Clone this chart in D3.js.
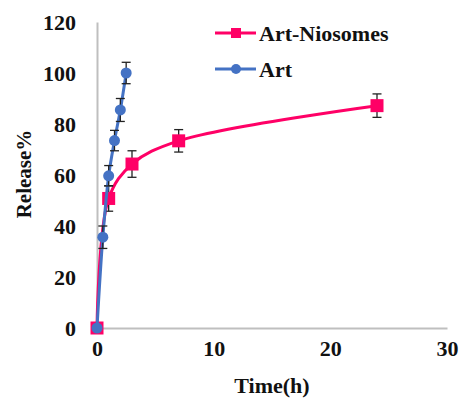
<!DOCTYPE html>
<html>
<head>
<meta charset="utf-8">
<script src="https://cdn.jsdelivr.net/npm/d3@7"></script>
<style>
  html, body { margin: 0; padding: 0; background: #fff; }
  svg { display: block; }
  text { font-family: "Liberation Serif", "Times New Roman", serif !important; font-weight: bold; fill: #111; }
</style>
</head>
<body>
<svg id="chart" width="464" height="401"></svg>
<script>
// ---- data ----
const seriesNames = ["Art-Niosomes", "Art"];
const timeNio = [0, 1, 3, 7, 24];
const releaseNio = [0, 50.8, 64.3, 73.4, 87.2];
const errNio = [0, 5.0, 5.2, 4.4, 4.6];
const timeArt = [0, 0.5, 1, 1.5, 2, 2.5];
const releaseArt = [0, 35.6, 59.7, 73.5, 85.5, 100];
const errArt = [0, 4.4, 4.0, 4.0, 4.5, 4.2];
const xTicks = [0, 10, 20, 30];
const yTicks = [0, 20, 40, 60, 80, 100, 120];
const xTitle = "Time(h)";
const yTitle = "Release%";

// ---- layout ----
const svg = d3.select("#chart");
const x = d3.scaleLinear().domain([0, 30]).range([97, 447]);
const y = d3.scaleLinear().domain([0, 120]).range([328, 22]);
const pink = "#FF0066";
const blue = "#4472C4";
const axisGray = "#BFBFBF";

// axes
const xAxis = svg.append("g").attr("transform", `translate(0,${y(0)})`)
  .call(d3.axisBottom(x).tickValues(xTicks).tickSize(0).tickPadding(12));
xAxis.attr("font-family", null);
xAxis.select(".domain").attr("stroke", axisGray).attr("stroke-width", 2);
xAxis.selectAll("text").style("font-size", "22px").style("fill", "#111");

const yAxis = svg.append("g").attr("transform", `translate(${x(0)},0)`)
  .call(d3.axisLeft(y).tickValues(yTicks).tickSize(0).tickPadding(21));
yAxis.attr("font-family", null);
yAxis.select(".domain").attr("stroke", axisGray).attr("stroke-width", 2);
yAxis.selectAll("text").style("font-size", "22px").style("fill", "#111");

// titles
svg.append("text").attr("x", 272).attr("y", 393).attr("text-anchor", "middle")
  .style("font-size", "22px").text(xTitle);
svg.append("text").attr("transform", "translate(31,174) rotate(-90)")
  .attr("text-anchor", "middle").style("font-size", "21px").text(yTitle);

const curve = d3.curveCatmullRom.alpha(0.5);

function drawSeries(times, vals, errs, color, marker) {
  const pts = times.map((t, i) => ({ t, v: vals[i], e: errs[i] }));
  const g = svg.append("g");
  g.append("path").datum(pts)
    .attr("fill", "none").attr("stroke", color).attr("stroke-width", 3)
    .attr("d", d3.line().x(d => x(d.t)).y(d => y(d.v)).curve(curve));
  // error bars
  const eb = g.selectAll(".eb").data(pts.filter(d => d.e > 0)).join("g");
  eb.append("line").attr("x1", d => x(d.t)).attr("x2", d => x(d.t))
    .attr("y1", d => y(d.v + d.e)).attr("y2", d => y(d.v - d.e))
    .attr("stroke", "#222").attr("stroke-width", 1.3);
  [1, -1].forEach(s => {
    eb.append("line").attr("x1", d => x(d.t) - 4.5).attr("x2", d => x(d.t) + 4.5)
      .attr("y1", d => y(d.v + s * d.e)).attr("y2", d => y(d.v + s * d.e))
      .attr("stroke", "#222").attr("stroke-width", 1.3);
  });
  if (marker === "square") {
    g.selectAll(".m").data(pts).join("rect")
      .attr("x", d => x(d.t) - 6.5).attr("y", d => y(d.v) - 6.5)
      .attr("width", 13).attr("height", 13).attr("fill", color);
  } else {
    g.selectAll(".m").data(pts).join("circle")
      .attr("cx", d => x(d.t)).attr("cy", d => y(d.v)).attr("r", 5.5)
      .attr("fill", color);
  }
}

drawSeries(timeNio, releaseNio, errNio, pink, "square");
drawSeries(timeArt, releaseArt, errArt, blue, "circle");

// legend
const legend = [
  { name: seriesNames[0], color: pink, marker: "square", y: 33 },
  { name: seriesNames[1], color: blue, marker: "circle", y: 69 }
];
legend.forEach(l => {
  svg.append("line").attr("x1", 215).attr("x2", 256).attr("y1", l.y).attr("y2", l.y)
    .attr("stroke", l.color).attr("stroke-width", 3);
  if (l.marker === "square") {
    svg.append("rect").attr("x", 231).attr("y", l.y - 5).attr("width", 10).attr("height", 10).attr("fill", l.color);
  } else {
    svg.append("circle").attr("cx", 236).attr("cy", l.y).attr("r", 5).attr("fill", l.color);
  }
  svg.append("text").attr("x", 259).attr("y", l.y + 7.5).style("font-size", "22px").text(l.name);
});
</script>
</body>
</html>
